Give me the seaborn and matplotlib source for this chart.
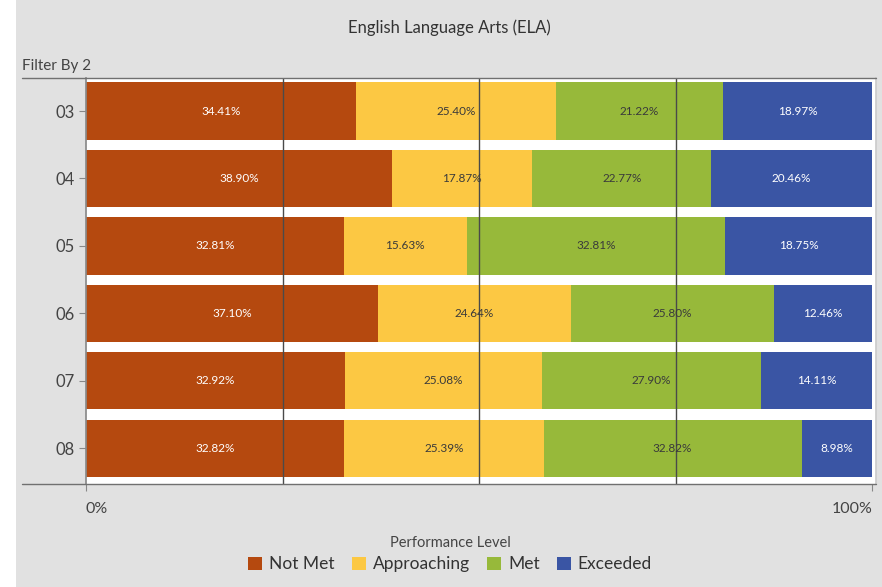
import numpy as np
import pandas as pd
import seaborn as sns
import matplotlib.pyplot as plt
from matplotlib.patches import Patch, Rectangle
from matplotlib.lines import Line2D

# values (percent of students per level)
grades = ["03", "04", "05", "06", "07", "08"]
levels = ["Not Met", "Approaching", "Met", "Exceeded"]
not_met = [34.41, 38.90, 32.81, 37.10, 32.92, 32.82]
approaching = [25.40, 17.87, 15.63, 24.64, 25.08, 25.39]
met = [21.22, 22.77, 32.81, 25.80, 27.90, 32.82]
exceeded = [18.97, 20.46, 18.75, 12.46, 14.11, 8.98]

colors = ["#b5490f", "#fcc843", "#97b93a", "#3a55a4"]
text_colors = ["white", "#3a3a3a", "#3a3a3a", "white"]

df = pd.DataFrame({"grade": grades, "Not Met": not_met, "Approaching": approaching,
                   "Met": met, "Exceeded": exceeded})

sns.set_theme(style="white")
plt.rcParams["font.family"] = ["Lato", "DejaVu Sans"]

fig = plt.figure(figsize=(8.82, 5.87), dpi=100)
fig.patch.set_facecolor("#e1e1e1")
fig.patches.append(Rectangle((0, 0), 16 / 882, 1, transform=fig.transFigure,
                             facecolor="white", edgecolor="none", zorder=0))
ax = fig.add_axes([86 / 882, 1 - 484 / 587, 790 / 882, 406 / 587])
ax.set_facecolor("white")

# stacked bars: draw cumulative totals from the right-most level backwards
cum = df[levels].cumsum(axis=1)
for lev, col in reversed(list(zip(levels, colors))):
    sns.barplot(x=cum[lev], y=df["grade"], orient="h", color=col,
                width=0.85, saturation=1, linewidth=0, edgecolor="none",
                ax=ax, zorder=1)

# segment labels
for lev, tc in zip(levels, text_colors):
    centers = cum[lev] - df[lev] / 2
    for i, (c, v) in enumerate(zip(centers, df[lev])):
        ax.text(c, i, f"{v:.2f}%", ha="center", va="center", fontsize=8.5,
                color=tc, zorder=4)

ax.set_xlim(0, 100.5)
ax.set_ylim(5.53, -0.49)
ax.set_xticks([0, 100])
ax.set_xticklabels(["0%", "100%"])
for lab, ha in zip(ax.get_xticklabels(), ["left", "right"]):
    lab.set_ha(ha)
ax.set_xticks([25, 50, 75], minor=True)
ax.grid(False)
ax.set_axisbelow(False)
ax.xaxis.grid(True, which="minor", color="#4a4a4a", linewidth=1)
ax.tick_params(axis="x", which="minor", length=0)
ax.tick_params(axis="x", which="major", length=5, width=0.8, color="#888888",
               labelsize=11.5, labelcolor="#444444", pad=8, direction="out", bottom=True)
ax.tick_params(axis="y", length=5, width=0.8, color="#888888", labelsize=12,
               labelcolor="#444444", pad=3, left=True)
ax.set_xlabel("")
ax.set_ylabel("")

for side in ["top", "bottom"]:
    ax.spines[side].set_visible(False)
ax.spines["left"].set_color("#8a8a8a")
ax.spines["right"].set_color("#cccccc")

# top and bottom rules extending to the left edge
for yy in [78, 484]:
    fig.add_artist(Line2D([22 / 882, 876 / 882], [1 - yy / 587] * 2,
                          transform=fig.transFigure, color="#707070", linewidth=1))

fig.text(449 / 882, 1 - 28 / 587, "English Language Arts (ELA)", ha="center",
         va="center", fontsize=12, color="#333333")
fig.text(22 / 882, 1 - 66 / 587, "Filter By 2", ha="left", va="center",
         fontsize=11, color="#444444")

handles = [Patch(facecolor=c, edgecolor="none", label=l) for l, c in zip(levels, colors)]
leg = fig.legend(handles=handles, loc="center", bbox_to_anchor=(450 / 882, 1 - 554 / 587),
                 ncol=4, frameon=False, fontsize=12.5, title="Performance Level",
                 title_fontsize=10.5, handlelength=0.8, handleheight=0.8,
                 handletextpad=0.4, columnspacing=1.0, labelcolor="#333333")
leg.get_title().set_color("#444444")
leg._legend_box.sep = 5

fig.savefig("out.png", dpi=100, facecolor=fig.get_facecolor())
